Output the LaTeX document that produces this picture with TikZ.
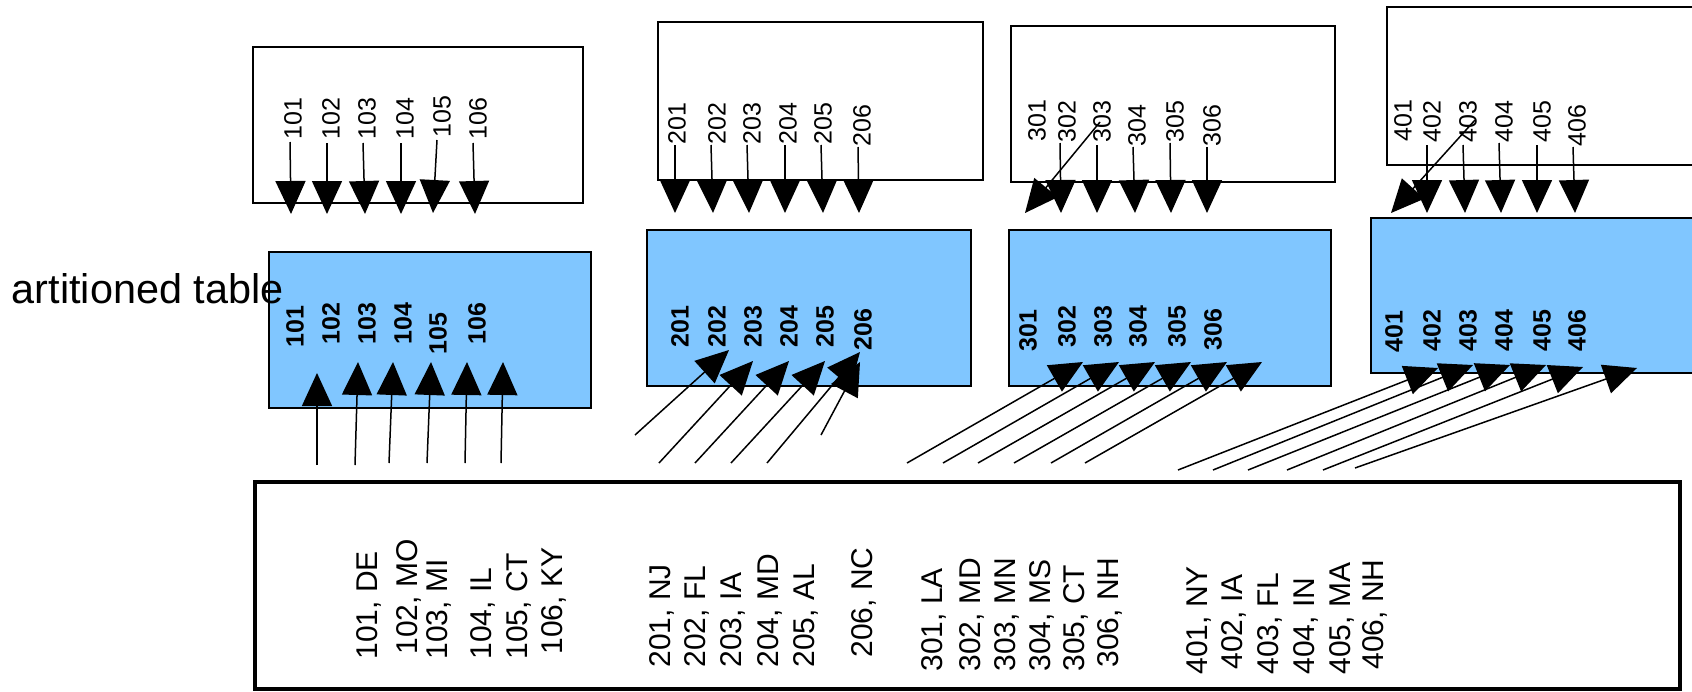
\documentclass[tikz,border=0pt]{standalone}
\usepackage{fontspec}
\setmainfont{Liberation Sans}
\usetikzlibrary{arrows.meta}
\definecolor{skyb}{RGB}{128,198,255}
\tikzset{
  box/.style={draw, line width=1pt, inner sep=0pt, outer sep=0pt},
  bluebox/.style={box, fill=skyb},
  lbl/.style={rotate=90, anchor=west, inner sep=0pt, font=\fontsize{12.5}{14}\selectfont},
  blbl/.style={rotate=90, anchor=west, inner sep=0pt, font=\fontsize{12.5}{14}\selectfont\bfseries},
  rowlbl/.style={rotate=90, anchor=west, inner sep=0pt, font=\fontsize{15}{17}\selectfont},
  arr/.style={line width=0.75pt, -{Triangle[width=15pt,length=16.5pt]}},
}
\begin{document}
\begin{tikzpicture}[x=0.5pt, y=-0.5pt]
\useasboundingbox (0,0) rectangle (1692,691);
\clip (0,0) rectangle (1692,691);
% boxes
\node[box, minimum width=165pt, minimum height=78pt] (A1) at (418,125) {};
\node[bluebox, minimum width=161pt, minimum height=78pt] (A2) at (430,330) {};
\node[box, minimum width=162.5pt, minimum height=79pt] (B1) at (820.5,101) {};
\node[bluebox, minimum width=162pt, minimum height=78pt] (B2) at (809,308) {};
\node[box, minimum width=162pt, minimum height=78pt] (C1) at (1173,104) {};
\node[bluebox, minimum width=161pt, minimum height=78pt] (C2) at (1170,308) {};
\node[box, minimum width=166.5pt, minimum height=79pt] (D1) at (1553.5,86) {};
\node[bluebox, minimum width=164.5pt, minimum height=77.5pt] (D2) at (1535.5,295.5) {};
\node[box, line width=2pt, minimum width=712.5pt, minimum height=103.5pt] (SRC) at (967.5,585.5) {};
% title
\node[anchor=base west, inner sep=0pt, font=\fontsize{20.7}{24}\selectfont] (title) at (11.5,303) {artitioned table};
% top labels
\foreach \n/\t/\x/\y in {t101/101/293/140, t102/102/331/140, t103/103/367/140, t104/104/405/140, t105/105/442/138, t106/106/478/140,
  t201/201/677/145, t202/202/717/145, t203/203/752/145, t204/204/788/145, t205/205/823/145, t206/206/862/147,
  t301/301/1037/142, t302/302/1067/143, t303/303/1102/143, t304/304/1137/147, t305/305/1175/143, t306/306/1212/147,
  t401/401/1403/142, t402/402/1432/143, t403/403/1468/143, t404/404/1504/143, t405/405/1542/143, t406/406/1577/147}
  {\node[lbl] (\n) at (\x,\y) {\t};}
% bold labels
\foreach \n/\t/\x/\y in {b101/101/295/348, b102/102/331/345, b103/103/367/345, b104/104/403/345, b105/105/438/355, b106/106/477/345,
  b201/201/680/348, b202/202/717/348, b203/203/753/348, b204/204/789/348, b205/205/825/348, b206/206/863/351,
  b301/301/1028/352, b302/302/1067/348, b303/303/1103/348, b304/304/1138/348, b305/305/1177/348, b306/306/1213/351,
  b401/401/1394/353, b402/402/1432/352, b403/403/1468/352, b404/404/1504/352, b405/405/1542/352, b406/406/1577/352}
  {\node[blbl] (\n) at (\x,\y) {\t};}
% row labels
\foreach \n/\t/\x/\y in {r101/{101, DE}/369/660, r102/{102, MO}/409/655, r103/{103, MI}/439/660, r104/{104, IL}/483/660, r105/{105, CT}/519/660, r106/{106, KY}/554/655,
  r201/{201, NJ}/662/668, r202/{202, FL}/697/668, r203/{203, IA}/733/668, r204/{204, MD}/770/668, r205/{205, AL}/806/668, r206/{206, NC}/864/658,
  r301/{301, LA}/934/672, r302/{302, MD}/972/672, r303/{303, MN}/1007/672, r304/{304, MS}/1042/672, r305/{305, CT}/1076/672, r306/{306, NH}/1110/668,
  r401/{401, NY}/1199/675, r402/{402, IA}/1234/670, r403/{403, FL}/1270/675, r404/{404, IN}/1306/675, r405/{405, MA}/1342/675, r406/{406, NH}/1375/670}
  {\node[rowlbl] (\n) at (\x,\y) {\t};}
% arrows
\foreach \n/\sx/\sy/\tx/\ty in {
  pa1/290/142/291/214, pa2/327/143/327/214, pa3/363/143/365/214, pa4/401/143/401/214, pa5/437/140/433/213, pa6/473/143/475/214,
  qa1/317/465/317/373, qa2/355/465/358/362, qa3/389/463/393/362, qa4/427/463/431/362, qa5/465/463/467/362, qa6/501/463/503/362,
  pb1/675/145/675/213, pb2/711/145/713/213, pb3/747/145/749/213, pb4/785/145/785/213, pb5/821/145/823/213, pb6/858/147/859/213,
  qb1/635/435/729/350, qb2/659/463/753/361, qb3/695/463/789/361, qb4/731/463/825/361, qb5/767/463/860/352, qb6/821/435/860/362,
  pc1/1100/122/1025/213, pc2/1060/143/1061/213, pc3/1097/145/1097/213, pc4/1133/147/1135/213, pc5/1170/143/1171/213, pc6/1207/147/1207/213,
  qc1/907/463/1083/362, qc2/943/463/1119/362, qc3/978/463/1155/362, qc4/1014/463/1191/362, qc5/1051/463/1227/362, qc6/1085/463/1262/362,
  pd1/1475/120/1391/213, pd2/1427/145/1427/213, pd3/1463/145/1465/213, pd4/1499/143/1501/213, pd5/1537/145/1537/213, pd6/1573/147/1575/213,
  qd1/1178/470/1438/368, qd2/1213/470/1473/365, qd3/1248/470/1510/365, qd4/1287/470/1546/365, qd5/1323/470/1583/367, qd6/1355/468/1637/368}
{
  \coordinate (\n s) at (\sx,\sy);
  \coordinate (\n t) at (\tx,\ty);
  \draw[arr] (\n s) -- (\n t);
}
\end{tikzpicture}
\end{document}
